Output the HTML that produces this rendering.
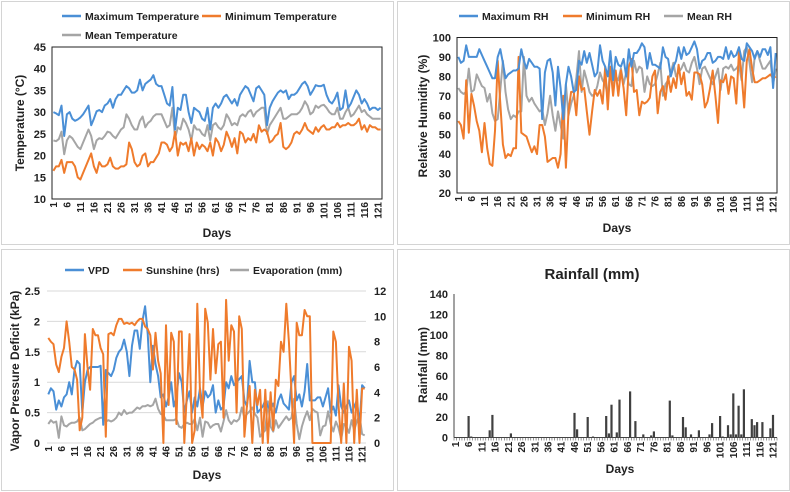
<!DOCTYPE html>
<html><head><meta charset="utf-8"><style>
html,body{margin:0;padding:0;background:#fff}
svg{display:block;font-family:"Liberation Sans",Arial,sans-serif;font-weight:bold}
</style></head><body>
<svg id="c" width="790" height="492" viewBox="0 0 790 492" xmlns="http://www.w3.org/2000/svg"></svg>
<script>
const days = 122;
const tickDays = [1,6,11,16,21,26,31,36,41,46,51,56,61,66,71,76,81,86,91,96,101,106,111,116,121];
const tempTicks = [10,15,20,25,30,35,40,45];
const rhTicks = [20,30,40,50,60,70,80,90,100];
const vpdTicks = [0,0.5,1,1.5,2,2.5];
const rightTicks = [0,2,4,6,8,10,12];
const rainTicks = [0,20,40,60,80,100,120,140];

const tMax = [30,29.7,29.3,31.5,24.5,29.5,30,28.5,28,28.3, 28.8,29.5,30.5,31.5,27,28.5,30.2,30.5,30,31.5, 32,33,31,33,34,34,35,36,35.5,34.5, 34.5,35,37.5,35,36.5,37,37.5,38.5,36.5,36, 36,34,32,31.5,35.8,26,31,30.5,34,34, 30,27.5,31,30.5,30,28.5,28,31,26,31, 32,31,32,33.5,34,33,32,33,31.5,34, 35,36,35.5,34,32.5,35.5,36,35,34,27, 31,32.5,33.5,34.5,35,34.5,35,33,34,34, 34.5,35.5,36.5,37,36,34,35,36.2,36,36, 36.3,34,32.5,32,33,34.5,30.5,31,35,31, 32,33.5,35,34,32,33,32,30.5,31,31, 30.5,31];
const tMean = [23.5,23.3,23.8,25.5,20.3,23.5,24.5,24,23,22, 21.5,23,24.5,26,24.5,21.5,23.5,24,23.8,24.5, 25.5,25.3,24.5,24,25,26,26.5,29.5,28.5,27, 26,26,28,29,26.5,27.5,28,29,29.5,29.5, 29.5,28,26.5,27,31,24,26.5,26,28.5,27.5, 26,23.5,27,26,26,25,24.5,27,23.5,27, 27.5,26.5,26,27,29.5,28.5,27,27.5,27,29, 29.5,29,30,30.5,29,30,30.5,31,31,25, 27,28,29,30,31,28.5,28.5,29,29.5,29.5, 29.5,30,31,32.5,31.5,29.5,30,31.5,31,31.5, 31.7,31,30,29.5,29.5,31,28.5,28.5,30,31, 29,29.5,30.5,31.5,30,30.5,29.5,29,28.5,28.5, 28.5,28.5];
const tMin = [16.5,17.5,17.5,19,16,18.5,18.5,18.5,17.5,15, 14.5,16,17.5,19,20.5,17.5,16,18.5,17.5,17.5, 18,19.5,17.5,17,17,17.5,17.5,18,23,21.5, 18.5,17.5,18,20,20.5,17.5,18.5,18.5,19.5,20.5, 23,23,22.5,21,22,25.5,20,23,22.5,23, 21,24,20,23,21.5,22.5,22,21,23,20, 24,23,21,22.5,25.5,24,22,24,20.5,25.5, 25,23,24,23.5,25,23,27,25.5,26,25.5, 23,23.5,24.5,25,27.5,22,21.5,22,23,25, 25.5,25,26,27.5,26,25.5,25,26.5,25.5,26.5, 27,26,26,26.5,26.5,27.5,26.5,27,27,27.5, 27,27,27.5,28.5,26,27,25.5,27,26.5,26.5, 26,26];

const rhMax = [90,87,88,96,90,90,90,90,94,91, 88,85,82,79,79,90,94,87,79,81, 82,83,83,84,94,88,84,89,87,85, 85,84,58,82,88,89,82,65,85,74, 58,76,85,80,72,73,88,86,93,87, 92,86,80,82,96,88,85,80,93,78, 90,86,85,89,80,94,85,92,92,94, 97,95,84,92,86,86,85,84,95,90, 89,80,85,88,95,89,95,91,92,95, 98,94,84,88,89,92,92,87,88,90, 90,89,95,89,93,90,91,95,89,88, 97,95,93,89,93,90,94,94,91,95, 74,92];
const rhMean = [74,72,71,72,84,72,73,81,78,75, 74,67,71,61,57,58,73,88,72,63, 58,60,59,62,62,90,70,67,69,66, 64,62,63,55,61,70,60,52,62,55, 48,76,60,66,70,79,93,72,83,78, 72,70,71,75,82,78,76,70,85,74, 80,78,84,76,82,76,75,88,82,85, 84,72,80,76,75,76,81,87,70,76, 78,82,87,80,82,84,87,83,82,87, 90,84,76,84,85,82,79,76,80,84, 73,84,85,84,86,83,84,86,78,93, 95,87,77,90,93,88,84,84,86,88, 76,84];
const rhMin = [57,55,48,78,51,71,65,57,52,41, 56,43,35,34,52,88,66,45,38,40, 39,43,43,90,51,50,49,45,41,44, 40,55,55,49,36,37,38,38,33,40, 70,33,62,72,72,60,80,73,74,62, 50,62,73,70,73,66,85,63,85,70, 83,70,83,74,60,85,89,72,73,60, 67,66,67,69,80,83,61,72,75,68, 80,72,79,74,86,76,82,70,72,68, 82,82,81,76,64,67,74,83,70,56, 78,77,81,71,80,79,66,93,81,64, 88,94,84,77,77,78,79,79,80,81, 79,80];

const vpd = [0.8,0.9,0.85,0.55,0.7,0.6,0.75,0.8,1.0,0.8, 1.2,1.35,1.3,0.5,1.0,1.2,1.25,1.25,1.25,1.25, 1.27,0.3,1.2,1.15,1.1,1.2,1.4,1.5,1.55,1.7, 1.5,1.1,1.6,1.85,1.85,1.55,2.0,2.25,1.8,1.0, 1.6,1.3,1.1,0.75,0.8,0.6,0.75,1.0,0.6,0.75, 1.15,1.0,0.5,0.7,0.85,0.5,0.75,0.6,0.9,0.6, 0.85,0.75,0.8,0.95,0.5,0.7,0.55,0.6,1.0,0.9, 1.1,0.95,1.0,1.05,1.1,0.7,0.6,1.35,1.0,1.0, 0.5,0.55,0.6,0.7,0.6,0.55,0.65,0.5,0.7,0.8, 0.65,0.6,0.55,1.0,1.1,0.7,0.8,0.6,0.85,1.3, 0.7,0.7,0.7,0.75,0.75,0.6,0.75,0.9,0.5,0.6, 0.45,0.95,0.6,0.5,0.6,0.7,0.5,0.6,0.7,0.3, 0.95,0.9];
const sunshine = [8.3,8,7.8,6.2,5.6,6.8,7.5,9.6,8,6, 5.8,5,1,2,8.6,6,4.2,9,8.5,8.5, 7.5,7,0.5,8.6,8.7,8.5,9.3,9.8,9.8,9.4, 9.5,9.4,9.5,9.3,9.6,9.8,9.8,9.2,9,8.5, 5.8,8.7,6.5,5.5,0,9.3,3,8.7,8,1.5, 8.8,8.8,0,4,8.6,0,1,11,4,2, 10.6,9.5,5,9,5.5,7.8,8,2,11.3,6.5, 9.3,8.8,2.4,10,9,0.5,3,4.5,0,4.2, 3,4.2,0,4.2,0,4,1,5,4.5,8, 7.2,11,8,4,0,9.5,8.5,8.5,10.5,10, 10,0,0,0,0,0,0,0,0,8.8, 8,3,0,4.7,0,7.6,6.5,0,4.2,0, 4.3,4.3];
const evaporation = [1.5,1.8,1.6,1.7,0.4,2.1,1.4,1.3,1.5,1.6, 1.6,1.7,2.0,1.0,1.1,1.3,1.5,1.6,1.8,1.9, 2.0,2.0,1.7,1.8,1.7,1.8,2.0,2.4,2.2,2.6, 2.3,2.4,2.4,2.6,2.8,2.7,2.9,2.9,3.0,2.9, 3.0,3.5,2.7,2.3,2.2,1.8,1.8,1.8,1.8,1.9, 1.3,1.2,1.5,1.6,1.5,1.5,1.9,1.0,2.0,0.5, 1.7,1.6,1.2,1.4,1.5,1.5,0.9,1.7,2.6,1.8, 1.5,1.8,1.7,1.9,2.8,2.0,2.3,2.5,2.8,2.3, 2.0,0.5,0.8,1.0,3.3,1.3,0.9,1.8,1.2,1.5, 1.8,2.1,1.8,2.0,3.5,1.5,0.3,1.3,2.0,2.5, 1.8,2.7,2.5,2.4,0.6,1.3,1.4,2.5,1.5,0.9, 1.7,1.2,0.3,1.5,1.3,0.8,1.8,1.0,1.7,2.2, 0.7,0.6];

const rainDays = [6,7,14,15,22,46,47,51,53,58,59,60,62,63,67,69,72,75,76,82,83,87,88,90,93,97,98,101,102,104,105,106,107,108,109,110,113,114,115,117,120,121];
const rainValues = [21,1,7,22,4,24,8,20,1,21,4,32,5,37,45,16,3,2,6,36,2,20,10,3,7,3,14,21,1,12,3,43,3,31,3,47,18,12,15,15,9,22];

const svg = document.getElementById('c');
const NS = 'http://www.w3.org/2000/svg';
function mk(tag, attrs, parent){const e=document.createElementNS(NS,tag);for(const k in attrs)e.setAttribute(k,attrs[k]);(parent||svg).appendChild(e);return e;}
function txt(s, attrs, parent){const e=mk('text',attrs,parent);e.textContent=s;return e;}

const BLUE='#4a8fd6', ORANGE='#ef7b2c', GRAY='#a5a5a5';

[[1,1,392,243,'temperature-panel'],[397,1,392,243,'humidity-panel'],[1,249,392,241,'vpd-panel'],[397,249,392,241,'rainfall-panel']].forEach(p=>{
  const r=mk('rect',{x:p[0]+0.5,y:p[1]+0.5,width:p[2],height:p[3],fill:'#fff',stroke:'#d4d4d4'});
  
  
});

function xs(i,x0,x1){return x0+(i-0.5)*(x1-x0)/days;}
function ys(v,vmin,vmax,yt,yb){return yb-(v-vmin)/(vmax-vmin)*(yb-yt);}

function line(arr,x0,x1,vmin,vmax,yt,yb,color,name){
  const pts=arr.map((v,k)=>xs(k+1,x0,x1).toFixed(1)+','+ys(v,vmin,vmax,yt,yb).toFixed(1)).join(' ');
  const p=mk('polyline',{points:pts,fill:'none',stroke:color,'stroke-width':2,'stroke-linejoin':'round'});
  
  
}
function xTicks(x0,x1,yb,prefix){
  tickDays.forEach(d=>{
    const x=xs(d,x0,x1);
    const t=txt(String(d),{x:0,y:0,'font-size':10,'text-anchor':'end',transform:`translate(${(x+3.5).toFixed(1)},${yb+3}) rotate(-90)`,fill:'#222'});
    
    
  });
}
function legend(items,y){
  items.forEach(it=>{
    mk('line',{x1:it[0],y1:y,x2:it[0]+19,y2:y,stroke:it[2],'stroke-width':2.5});
    const t=txt(it[1],{x:it[0]+23,y:y+4,'font-size':10.5,fill:'#222'});
    
    
  });
}
function yTitle(s,x,y,name){
  const t=txt(s,{x:0,y:0,'font-size':12,'text-anchor':'middle',transform:`translate(${x},${y}) rotate(-90)`,fill:'#222'});
  
  
}
function xTitle(x,y,name){
  const t=txt('Days',{x:x,y:y,'font-size':12,'text-anchor':'middle',fill:'#222'});
  
  
}

(function(){
  const x0=52,x1=382,yt=47,yb=199;
  legend([[62,'Maximum Temperature',BLUE],[202,'Minimum Temperature',ORANGE]],16);
  legend([[62,'Mean Temperature',GRAY]],35);
  tempTicks.forEach(v=>{const t=txt(String(v),{x:x0-6,y:ys(v,10,45,yt,yb)+4,'font-size':11,'text-anchor':'end',fill:'#222'});
    
    });
  line(tMean,x0,x1,10,45,yt,yb,GRAY,'mean-temperature-line');
  line(tMin,x0,x1,10,45,yt,yb,ORANGE,'min-temperature-line');
  line(tMax,x0,x1,10,45,yt,yb,BLUE,'max-temperature-line');
  mk('rect',{x:x0,y:yt,width:x1-x0,height:yb-yt,fill:'none',stroke:'#222','stroke-width':1});
  xTicks(x0,x1,yb,'temp');
  yTitle('Temperature (°C)',24,123,'temp-y-axis-title');
  xTitle(217,237,'temp-x-axis-title');
})();

(function(){
  const x0=457,x1=777,yt=37.5,yb=193;
  legend([[459,'Maximum RH',BLUE],[563,'Minimum RH',ORANGE],[664,'Mean RH',GRAY]],16);
  rhTicks.forEach(v=>{const t=txt(String(v),{x:x0-6,y:ys(v,20,100,yt,yb)+4,'font-size':11,'text-anchor':'end',fill:'#222'});
    
    });
  line(rhMean,x0,x1,20,100,yt,yb,GRAY,'mean-rh-line');
  line(rhMin,x0,x1,20,100,yt,yb,ORANGE,'min-rh-line');
  line(rhMax,x0,x1,20,100,yt,yb,BLUE,'max-rh-line');
  mk('rect',{x:x0,y:yt,width:x1-x0,height:yb-yt,fill:'none',stroke:'#222','stroke-width':1});
  xTicks(x0,x1,yb,'rh');
  yTitle('Relative Humidity (%)',427,116,'rh-y-axis-title');
  xTitle(617,232,'rh-x-axis-title');
})();

(function(){
  const x0=47,x1=366,yt=291,yb=443;
  legend([[65,'VPD',BLUE],[123,'Sunshine (hrs)',ORANGE],[230,'Evaporation (mm)',GRAY]],270);
  vpdTicks.forEach(v=>{const y=ys(v,0,2.5,yt,yb);
    mk('line',{x1:x0,y1:y,x2:x1,y2:y,stroke:'#d9d9d9','stroke-width':1});
    const t=txt(String(v),{x:x0-7,y:y+4,'font-size':11,'text-anchor':'end',fill:'#222'});
    
    });
  rightTicks.forEach(v=>{const t=txt(String(v),{x:x1+8,y:ys(v,0,12,yt,yb)+4,'font-size':11,'text-anchor':'start',fill:'#222'});
    
    });
  line(evaporation,x0,x1,0,12,yt,yb,GRAY,'evaporation-line');
  line(vpd,x0,x1,0,2.5,yt,yb,BLUE,'vpd-line');
  line(sunshine,x0,x1,0,12,yt,yb,ORANGE,'sunshine-line');
  xTicks(x0,x1,yb,'vpd');
  yTitle('Vapor Pressure Deficit (kPa)',19,371,'vpd-y-axis-title');
  xTitle(207,479,'vpd-x-axis-title');
})();

(function(){
  const x0=454,x1=777,yt=294,yb=437.5;
  const tt=txt('Rainfall (mm)',{x:592,y:279,'font-size':15,'text-anchor':'middle',fill:'#222'});
  
  
  rainTicks.forEach(v=>{const t=txt(String(v),{x:x0-6,y:ys(v,0,140,yt,yb)+4,'font-size':11,'text-anchor':'end',fill:'#222'});
    
    });
  const bw=(x1-x0)/days;
  rainDays.forEach((d,k)=>{
    const y=ys(rainValues[k],0,140,yt,yb);
    const b=mk('rect',{x:(xs(d,x0,x1)-1.1).toFixed(1),y:y.toFixed(1),width:2.2,height:(yb-y).toFixed(1),fill:'#404040'});
    
    
  });
  for(let i=0;i<=days;i++){const x=x0+i*bw;mk('line',{x1:x,y1:yb,x2:x,y2:yb+3,stroke:'#555','stroke-width':0.6});}
  mk('line',{x1:x0,y1:yt,x2:x0,y2:yb,stroke:'#444','stroke-width':1});
  mk('line',{x1:x0,y1:yb,x2:x1,y2:yb,stroke:'#444','stroke-width':1});
  xTicks(x0,x1,yb+1,'rain');
  yTitle('Rainfall (mm)',427,365,'rain-y-axis-title');
  xTitle(620,473,'rain-x-axis-title');
})();
</script>
</body></html>
